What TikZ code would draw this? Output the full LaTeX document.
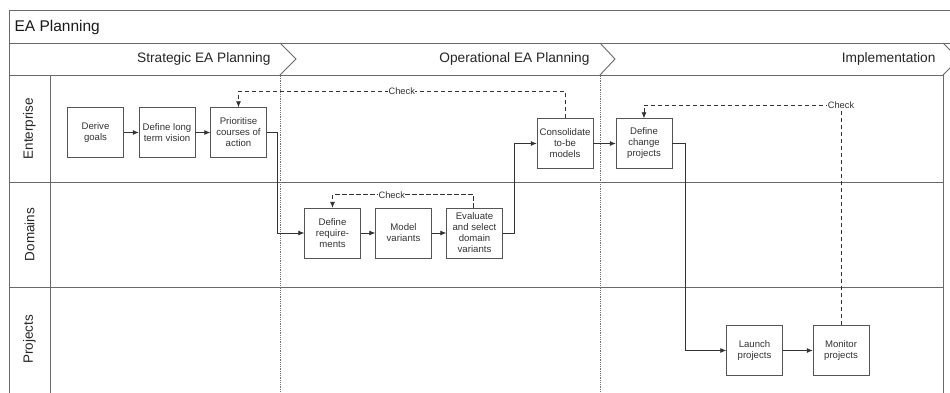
\documentclass[tikz,border=0pt]{standalone}
\usepackage{fontspec}
\setmainfont{Liberation Sans}
\usetikzlibrary{arrows.meta}

\definecolor{framegray}{HTML}{6A6A6A}
\definecolor{boxgray}{HTML}{555555}
\definecolor{textgray}{HTML}{333333}

\tikzset{
	task/.style={rectangle, draw=boxgray, fill=white, text=textgray, align=center, text centered, minimum height=50pt, minimum width=56pt, inner sep=1pt, font=\fontsize{9.6}{11}\selectfont},
	flow/.style={-{Latex[length=6pt, width=5pt]}, draw=black!80, line width=0.8pt},
	checkloop/.style={-{Latex[length=6pt, width=5pt]}, draw=black!80, line width=0.8pt, dash pattern=on 4.5pt off 2.5pt},
	checklabel/.style={fill=white, text=textgray, inner sep=0.5pt, font=\fontsize{9.3}{9.3}\selectfont},
	lane/.style={rotate=90, text=black!85, font=\fontsize{13.5}{13.5}\selectfont},
	phase/.style={anchor=east, text=black!85, font=\fontsize{13.7}{13.7}\selectfont},
	border/.style={draw=framegray, line width=0.9pt},
	phaseline/.style={draw=black!55, densely dotted, line width=0.8pt}
}

\begin{document}
\begin{tikzpicture}[x=1pt, y=-1pt, node distance=71.5pt]
	\clip (0,0) rectangle (950,392);
	\fill[white] (0,0) rectangle (950,392);

	% pool frame
	\draw[border] (9,400) -- (9,10) -- (960,10);
	\draw[border] (9,43) -- (960,43);
	\draw[border] (9,75) -- (943,75);
	\draw[border] (9,182) -- (943,182);
	\draw[border] (9,287) -- (943,287);
	\draw[border] (50,75) -- (50,400);
	\draw[border] (943,75) -- (943,400);
	% phase chevrons
	\draw[border] (280,43) -- (296,59) -- (280,75);
	\draw[border] (600,43) -- (615,59) -- (600,75);
	\draw[border] (943,43) -- (959,59) -- (943,75);
	\draw[phaseline] (280,76) -- (280,400);
	\draw[phaseline] (600,76) -- (600,400);

	\node (title) [anchor=west, text=black!90, font=\fontsize{15.5}{15.5}\selectfont] at (11,27) {EA Planning};
	\node (strategic) [phase] at (274,59) {Strategic EA Planning};
	\node (operational) [phase] at (593,59) {Operational EA Planning};
	\node (implementation) [phase] at (939,59) {Implementation};

	\node (enterprise) [lane] at (29.5,128.5) {Enterprise};
	\node (domains) [lane] at (29.5,234.5) {Domains};
	\node (projects) [lane] at (29.5,339.5) {Projects};

	% enterprise lane
	\node (goals) [task] at (95.5,132.5) {Derive\\goals};
	\node (vision) [task, right of=goals] {Define long\\term vision};
	\node (prioritise) [task, right of=vision] {Prioritise\\courses of\\action};
	\node (consolidate) [task] at (565,143.5) {Consolidate\\to-be\\models};
	\node (change) [task, right of=consolidate, node distance=79pt] {Define\\change\\projects};

	% domains lane
	\node (requirements) [task] at (332.5,233) {Define\\require-\\ments};
	\node (variants) [task, right of=requirements, node distance=71pt] {Model\\variants};
	\node (evaluate) [task, right of=variants, node distance=71pt] {Evaluate\\and select\\domain\\variants};

	% projects lane
	\node (launch) [task] at (754.5,350.5) {Launch\\projects};
	\node (monitor) [task, right of=launch, node distance=86.5pt] {Monitor\\projects};

	\draw[flow] (goals) -- (vision);
	\draw[flow] (vision) -- (prioritise);
	\draw[flow] (prioritise.east) -- ++(11,0) |- (requirements.west);
	\draw[flow] (requirements) -- (variants);
	\draw[flow] (variants) -- (evaluate);
	\draw[flow] (evaluate.east) -- ++(12,0) |- (consolidate.west);
	\draw[flow] (consolidate) -- (change);
	\draw[flow] (change.east) -- ++(13,0) |- (launch.west);
	\draw[flow] (launch) -- (monitor);

	\draw[checkloop] (consolidate.north) -- ++(0,-27) -| node[checklabel, pos=0.25] {Check} (prioritise.north);
	\draw[checkloop] ([xshift=-1pt]evaluate.north) -- ++(0,-13) -| node[checklabel, pos=0.29] {Check} (requirements.north);
	\draw[checkloop] (monitor.north) -- ++(0,-220) node[checklabel] {Check} -| (change.north);
\end{tikzpicture}
\end{document}
